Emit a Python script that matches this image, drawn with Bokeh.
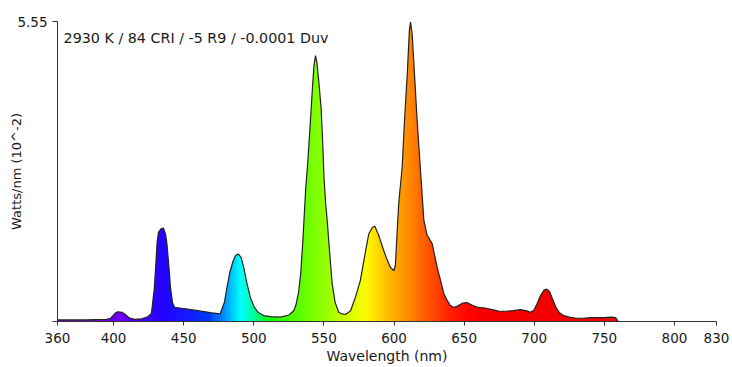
import numpy as np
from bokeh.plotting import figure
from bokeh.models import FixedTicker, Label, Range1d
from bokeh.embed import file_html
from bokeh.resources import INLINE

# ---- data ----
wavelength = [360, 380, 395, 398, 401, 403, 406, 408, 411, 415, 420, 424, 427,
              429, 430, 431, 432, 434, 435.5, 437, 438, 439.5, 440.5, 442, 443.5,
              450, 460, 470, 476, 479, 481, 483, 485, 487, 489, 491, 493, 495,
              497.5, 500, 503, 507, 512, 519, 525, 528.5, 530, 532, 533.5, 535,
              537, 538.5, 540.4, 542, 543, 544, 545, 546.5, 548, 549, 550, 551.2,
              552.4, 554, 555.9, 558, 560.6, 563, 565.4, 569, 572.5, 576, 579, 582,
              584.5, 586.3, 589, 592.7, 595, 597.5, 600, 601, 602, 603.4, 605.8,
              607.5, 609.5, 611, 611.8, 613, 615, 616.5, 618.9, 621.3, 623.6, 627.2,
              630.8, 633.2, 635.5, 637.9, 640, 642.6, 645, 649, 652, 656, 660, 665,
              670, 675, 680, 685, 690, 694, 697.5, 700, 702, 704.5, 707, 709, 711,
              713, 715.5, 718, 721, 725, 730, 735, 740, 745, 750, 755, 758, 760]
power = [0.03, 0.03, 0.04, 0.06, 0.15, 0.18, 0.17, 0.14, 0.07, 0.04, 0.05, 0.08, 0.15,
         0.6, 1.0, 1.45, 1.65, 1.72, 1.73, 1.62, 1.45, 1.0, 0.65, 0.35, 0.26,
         0.24, 0.20, 0.16, 0.14, 0.35, 0.65, 0.92, 1.1, 1.22, 1.25, 1.18, 0.98, 0.72,
         0.45, 0.28, 0.17, 0.11, 0.09, 0.08, 0.12, 0.2, 0.3, 0.55, 0.9, 1.5,
         2.45, 2.95, 3.72, 4.4, 4.75, 4.92, 4.8, 4.4, 3.95, 3.4, 2.7, 2.2,
         1.85, 1.3, 0.7, 0.35, 0.17, 0.14, 0.13, 0.2, 0.45, 0.76, 1.2, 1.62,
         1.74, 1.76, 1.6, 1.31, 1.15, 1.0, 0.94, 1.05, 1.55, 2.2, 2.85,
         3.72, 4.6, 5.4, 5.54, 5.3, 4.4, 3.72, 2.79, 1.87, 1.6, 1.44,
         1.0, 0.76, 0.52, 0.39, 0.3, 0.26, 0.28, 0.34, 0.35, 0.3, 0.26, 0.25,
         0.22, 0.19, 0.19, 0.2, 0.22, 0.2, 0.17, 0.22, 0.33, 0.48, 0.58, 0.6, 0.55,
         0.42, 0.26, 0.16, 0.11, 0.08, 0.06, 0.06, 0.07, 0.07, 0.07, 0.08, 0.07, 0.0]

x_ticks = [360, 400, 450, 500, 550, 600, 650, 700, 750, 800, 830]
y_ticks = [0, 5.55]
y_tick_labels = {0: "", 5.55: "5.55"}
annotation_text = "2930 K / 84 CRI / -5 R9 / -0.0001 Duv"
x_label = "Wavelength (nm)"
y_label = "Watts/nm (10^-2)"

# spectral colour stops used for the fill
color_nm = [360, 395, 405, 420, 432, 440, 455, 468, 476, 483, 490, 496, 503, 512,
            525, 545, 560, 572, 580, 590, 600, 611, 620, 630, 640, 652, 660, 830]
color_r = [130, 120, 110, 70, 40, 30, 20, 0, 0, 0, 0, 0, 0, 20,
           70, 130, 185, 230, 255, 255, 255, 255, 255, 255, 255, 255, 250, 235]
color_g = [0, 0, 0, 0, 0, 10, 30, 60, 120, 190, 255, 255, 255, 255,
           255, 255, 255, 255, 250, 210, 170, 135, 100, 65, 30, 5, 0, 0]
color_b = [200, 230, 255, 255, 255, 255, 255, 255, 255, 255, 255, 200, 110, 0,
           0, 0, 0, 0, 0, 0, 0, 0, 0, 0, 0, 0, 0, 0]

X0, X1, Y0, Y1 = 360, 830, 0, 5.55

# spectral gradient image (1 row), kept inside the frame's top/right edges
img_x1 = 800
img_y1 = 5.52
cols = np.linspace(X0, img_x1, 881)
rgba = np.zeros((1, cols.size, 4), dtype=np.uint8)
rgba[0, :, 0] = np.interp(cols, color_nm, color_r)
rgba[0, :, 1] = np.interp(cols, color_nm, color_g)
rgba[0, :, 2] = np.interp(cols, color_nm, color_b)
rgba[0, :, 3] = 255
img = rgba.view(dtype=np.uint32).reshape((1, cols.size))

FONT = "DejaVu Sans"
TXT = "#1a1a1a"

p = figure(width=732, height=367, x_range=Range1d(X0, X1), y_range=Range1d(Y0, Y1),
           output_backend="svg", toolbar_location=None,
           min_border_left=57, min_border_right=16, min_border_top=21, min_border_bottom=46)
p.outline_line_color = None
p.xgrid.visible = False
p.ygrid.visible = False
p.background_fill_color = "white"

p.image_rgba(image=[img], x=X0, y=Y0, dw=img_x1 - X0, dh=img_y1 - Y0)

# white mask above the curve (extends past the image so no edge shows)
pad_x, pad_y = 20, 1
mask_x = [X0 - pad_x, X0 - pad_x] + wavelength + [wavelength[-1], X1 + pad_x, X1 + pad_x]
mask_y = [Y1 + pad_y, power[0]] + power + [Y0 - pad_y, Y0 - pad_y, Y1 + pad_y]
p.patch(mask_x, mask_y, fill_color="white", line_color=None)

p.line(wavelength, power, line_color="#222222", line_width=1.2)

# axes
p.xaxis.ticker = FixedTicker(ticks=x_ticks)
p.xaxis.minor_tick_line_color = None
p.xaxis.major_tick_out = 4
p.xaxis.major_tick_in = 0
p.xaxis.major_label_standoff = 7
p.xaxis.axis_label = x_label
p.xaxis.axis_label_standoff = 2

p.yaxis.ticker = FixedTicker(ticks=y_ticks)
p.yaxis.major_label_overrides = y_tick_labels
p.yaxis.minor_tick_line_color = None
p.yaxis.major_tick_out = 5
p.yaxis.major_tick_in = 0
p.yaxis.major_label_standoff = 5
p.yaxis.axis_label = y_label
p.yaxis.axis_label_standoff = -10

for ax in (p.xaxis[0], p.yaxis[0]):
    ax.axis_line_color = "#333333"
    ax.major_tick_line_color = "#333333"
    ax.major_label_text_font = FONT
    ax.major_label_text_font_size = "13.5px"
    ax.major_label_text_color = TXT
    ax.axis_label_text_font = FONT
    ax.axis_label_text_font_style = "normal"
    ax.axis_label_text_color = TXT
p.xaxis.axis_label_text_font_size = "14px"
p.yaxis.axis_label_text_font_size = "13px"

p.add_layout(Label(x=364.3, y=5.245, text=annotation_text, text_font=FONT,
                   text_font_size="14.3px", text_color=TXT, text_baseline="middle"))

open("out.html", "w").write(file_html(p, INLINE))
